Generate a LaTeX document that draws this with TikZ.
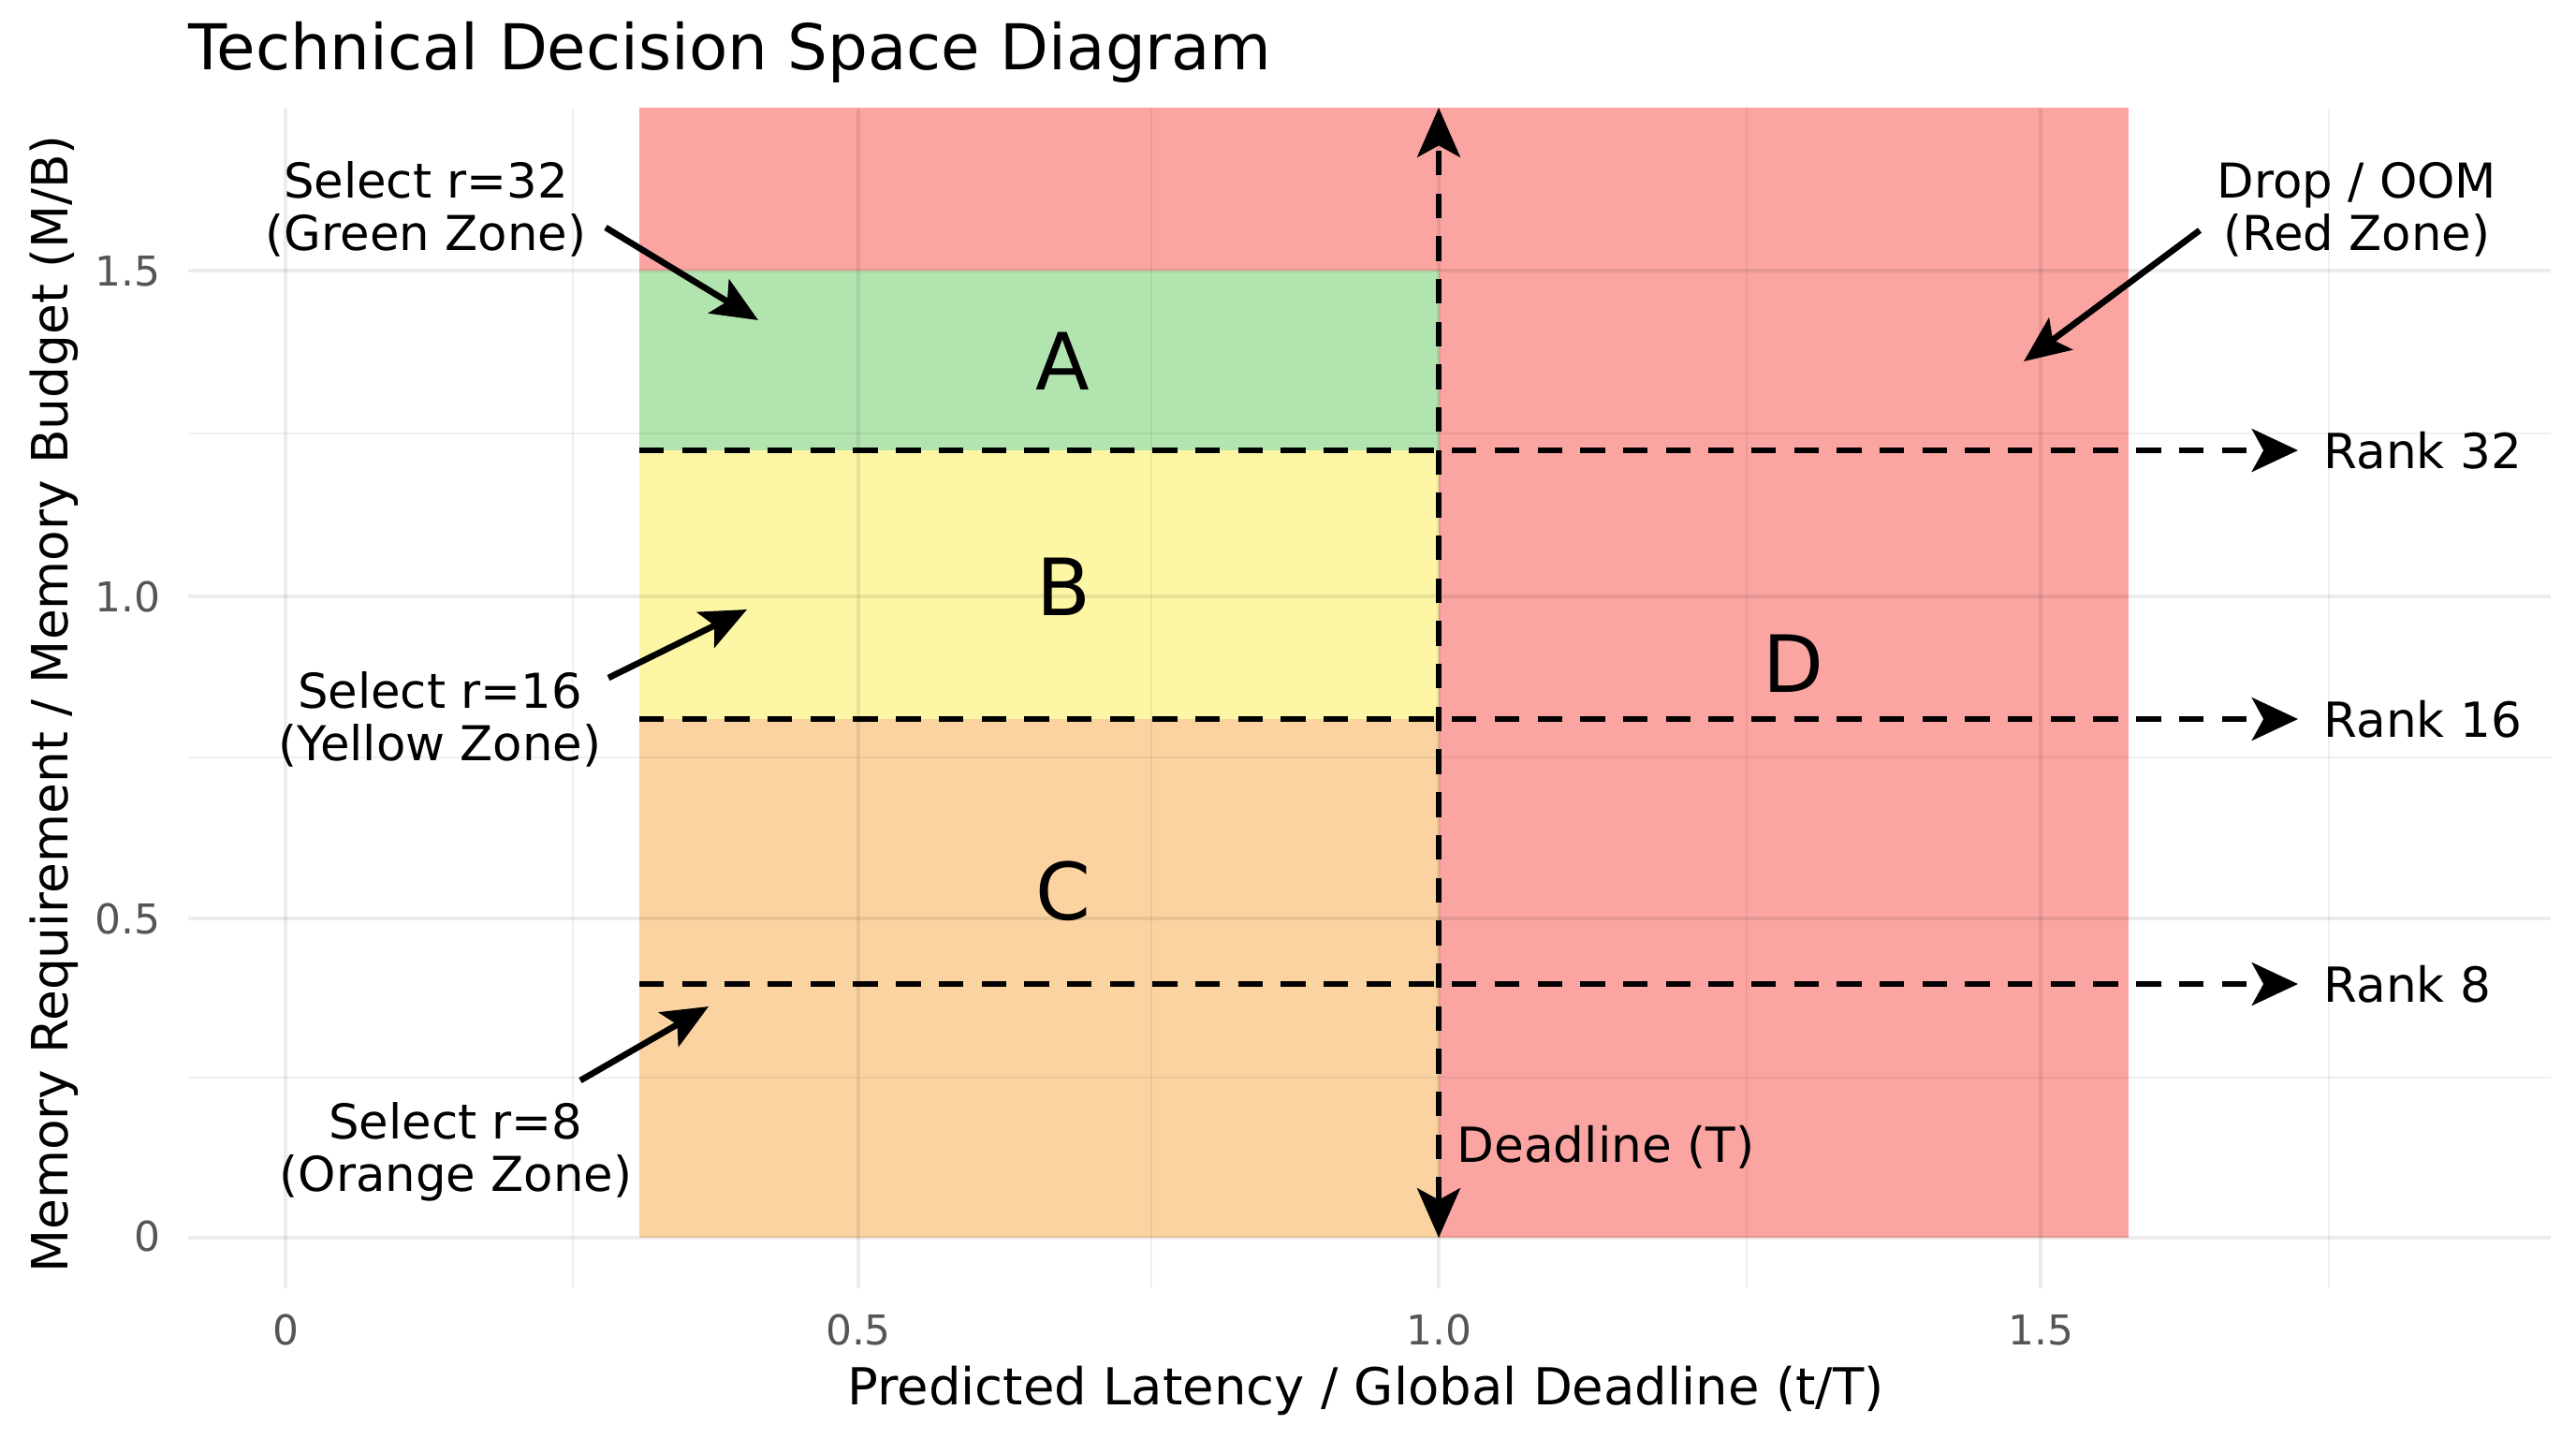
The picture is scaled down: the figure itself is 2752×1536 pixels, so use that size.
\documentclass[tikz,border=0pt]{standalone}
\usepackage{fontspec}
\setmainfont{DejaVu Sans}
\usetikzlibrary{arrows.meta}
\definecolor{zred}{HTML}{FAA5A2}
\definecolor{zgreen}{HTML}{B2E4AF}
\definecolor{zyellow}{HTML}{FCF6A5}
\definecolor{zorange}{HTML}{FAD3A0}
\definecolor{tickgray}{HTML}{555555}
\tikzset{
  gridmajor/.style={draw=black, draw opacity=0.075, line width=1.3pt},
  gridminor/.style={draw=black, draw opacity=0.06, line width=0.8pt},
  rankline/.style={line width=1.9pt, dash pattern=on 7.5pt off 5.5pt, -{Stealth[length=14pt,width=13pt,inset=3.5pt]}},
  deadline/.style={line width=1.9pt, dash pattern=on 7.5pt off 5.5pt, {Stealth[length=15pt,width=13pt,inset=3.5pt]}-{Stealth[length=15pt,width=13pt,inset=3.5pt]}},
  annarrow/.style={line width=1.9pt, -{Stealth[length=14pt,width=12pt,inset=3pt]}},
  anntext/.style={align=center, inner sep=0pt, font=\fontsize{14.6}{16}\selectfont},
  ranklabel/.style={anchor=west, inner sep=0pt, font=\fontsize{14.7}{16}\selectfont},
  zoneletter/.style={inner sep=0pt, font=\fontsize{24}{28}\selectfont},
  xtick/.style={anchor=base, inner sep=0pt, text=tickgray, font=\fontsize{12.5}{14}\selectfont},
  ytick/.style={anchor=east, inner sep=0pt, text=tickgray, font=\fontsize{12.5}{14}\selectfont},
  axislabel/.style={inner sep=0pt, font=\fontsize{15.5}{18}\selectfont},
}
\begin{document}
\begin{tikzpicture}[x=0.1mm,y=-0.1mm]
\useasboundingbox (0,0) rectangle (2752,1536);
\fill[white] (0,0) rectangle (2752,1536);

% zones
\fill[zred] (683,115) rectangle (2274,1322);
\fill[zgreen] (683,289) rectangle (1537,481);
\fill[zyellow] (683,481) rectangle (1537,768);
\fill[zorange] (683,768) rectangle (1537,1322);

% gridlines
\foreach \x in {305,917,1537,2180} \draw[gridmajor] (\x,116) -- (\x,1376);
\foreach \x in {612,1230,1866,2488} \draw[gridminor] (\x,116) -- (\x,1376);
\foreach \y in {289,637,981,1322} \draw[gridmajor] (201,\y) -- (2725,\y);
\foreach \y in {463,809,1151} \draw[gridminor] (201,\y) -- (2725,\y);

% title
\node[anchor=base west, inner sep=0pt, font=\fontsize{19.2}{22}\selectfont] (title) at (201,74) {Technical Decision Space Diagram};

% zone letters
\node[zoneletter] (A) at (1135,386) {A};
\node[zoneletter] (B) at (1136,627) {B};
\node[zoneletter] (C) at (1136,952) {C};
\node[zoneletter] (D) at (1916,709) {D};

% rank lines
\coordinate (r32s) at (683,481);
\coordinate (r32e) at (2455,481);
\coordinate (r16s) at (683,768);
\coordinate (r16e) at (2455,768);
\coordinate (r8s) at (683,1051);
\coordinate (r8e) at (2455,1051);
\draw[rankline] (r32s) -- (r32e);
\draw[rankline] (r16s) -- (r16e);
\draw[rankline] (r8s) -- (r8e);
\node[ranklabel] (rk32) at (2482,481) {Rank 32};
\node[ranklabel] (rk16) at (2482,768) {Rank 16};
\node[ranklabel] (rk8) at (2482,1051) {Rank 8};

% deadline
\coordinate (dtop) at (1537,115);
\coordinate (dbot) at (1537,1322);
\draw[deadline] (dbot) -- (dtop);
\node[anchor=base west, inner sep=0pt, font=\fontsize{14.7}{16}\selectfont] (dl) at (1556,1241) {Deadline (T)};

% annotations
\node[anntext] (g) at (455,223) {Select r=32\\(Green Zone)};
\node[anntext] (y) at (470,768) {Select r=16\\(Yellow Zone)};
\node[anntext] (o) at (487,1230) {Select r=8\\(Orange Zone)};
\node[anntext] (r) at (2518,224) {Drop / OOM\\(Red Zone)};
\coordinate (gs) at (647,243);  \coordinate (gt) at (810,342);
\coordinate (ys) at (650,724);  \coordinate (yt) at (798,651);
\coordinate (os) at (620,1154); \coordinate (ot) at (757,1075);
\coordinate (rs) at (2350,246); \coordinate (rt) at (2162,386);
\draw[annarrow] (gs) -- (gt);
\draw[annarrow] (ys) -- (yt);
\draw[annarrow] (os) -- (ot);
\draw[annarrow] (rs) -- (rt);

% ticks
\node[xtick] (x0) at (305,1436) {0};
\node[xtick] (x05) at (917,1436) {0.5};
\node[xtick] (x10) at (1537,1436) {1.0};
\node[xtick] (x15) at (2180,1436) {1.5};
\node[ytick] (y0) at (172,1320) {0};
\node[ytick] (y05) at (172,981) {0.5};
\node[ytick] (y10) at (172,637) {1.0};
\node[ytick] (y15) at (172,290) {1.5};

% axis labels
\node[axislabel, anchor=base] (xl) at (1459,1500) {Predicted Latency / Global Deadline (t/T)};
\node[inner sep=0pt, font=\fontsize{15.2}{18}\selectfont, anchor=base, rotate=90] (yl) at (73,752) {Memory Requirement / Memory Budget (M/B)};
\end{tikzpicture}
\end{document}
